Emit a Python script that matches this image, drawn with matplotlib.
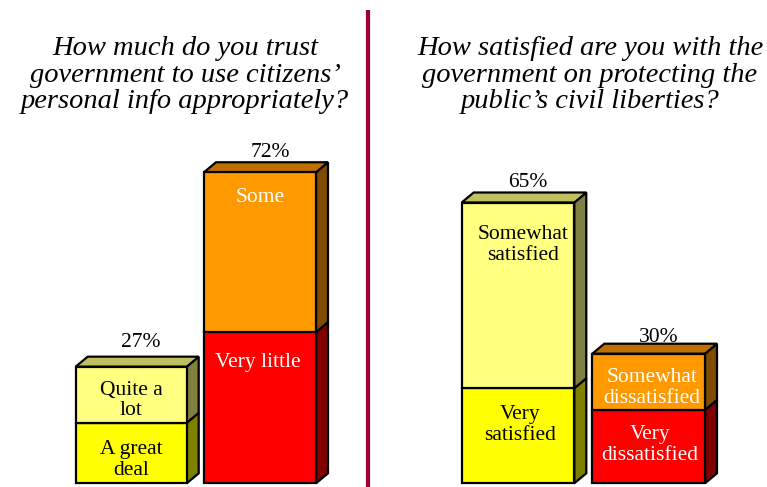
import matplotlib
matplotlib.use("Agg")
import matplotlib.pyplot as plt
from matplotlib.patches import Polygon

# Survey results (percent of respondents)
left_title = "How much do you trust\ngovernment to use citizens’\npersonal info appropriately?"
right_title = "How satisfied are you with the\ngovernment on protecting the\npublic’s civil liberties?"

trust_great_deal = 14
trust_quite_a_lot = 13
trust_very_little = 35
trust_some = 37

sat_very = 22
sat_somewhat = 43
dis_very = 17
dis_somewhat = 13

# Bars: list of stacked segments (value, label) from bottom up
bars = [
    [(trust_great_deal, "A great\ndeal"), (trust_quite_a_lot, "Quite a\nlot")],
    [(trust_very_little, "Very little"), (trust_some, "Some")],
    [(sat_very, "Very\nsatisfied"), (sat_somewhat, "Somewhat\nsatisfied")],
    [(dis_very, "Very\ndissatisfied"), (dis_somewhat, "Somewhat\ndissatisfied")],
]

# Styling per bar segment: (front, side, top, text colour)
LY = ("#FFFF80", "#808040", "#C0C060", "black")
Y = ("#FFFF00", "#808000", "#C0C000", "black")
OR = ("#FF9900", "#804C00", "#C07000", "white")
RD = ("#FF0000", "#800000", "#C00000", "white")
seg_styles = [[Y, LY], [RD, OR], [Y, LY], [RD, OR]]

# Horizontal layout (pixels) and label anchors
bar_left = [75.7, 204.0, 461.7, 592.3]
bar_width = [111.0, 112.0, 112.6, 112.7]
# vertical position of each segment label as fraction of segment height (from bottom)
label_frac = [[0.38, 0.40], [0.80, 0.84], [0.61, 0.77], [0.52, 0.39]]
label_dx = [[0, 0], [-2, 0], [2, 5], [1, 3]]
# gap (px) between the top face and the centre of the total label
total_gap = [14.0, 10.0, 10.0, 6.0]
total_dx = 10.0

W, H = 767, 487
base_px = 483.3
px_per_pct = 4.32
depth_x = 12.0
depth_y = 10.0 / px_per_pct

fig = plt.figure(figsize=(W / 100, H / 100), dpi=100)
ax = fig.add_axes([0, 0, 1, 1])
ax.set_xlim(0, W)
ax.set_ylim(-(H - base_px) / px_per_pct, base_px / px_per_pct)
ax.axis("off")


def px_to_y(py):
    return (base_px - py) / px_per_pct


serif = ["Liberation Serif", "DejaVu Serif"]
lw = 1.6

for bi, segs in enumerate(bars):
    x0 = bar_left[bi]
    x1 = x0 + bar_width[bi]
    bottom = 0.0
    for si, (val, lab) in enumerate(segs):
        front, side, top_c, tc = seg_styles[bi][si]
        y0, y1 = bottom, bottom + val
        ax.add_patch(Polygon([(x0, y0), (x1, y0), (x1, y1), (x0, y1)],
                             closed=True, facecolor=front, edgecolor="black",
                             linewidth=lw, zorder=3))
        ax.add_patch(Polygon([(x1, y0), (x1 + depth_x, y0 + depth_y),
                              (x1 + depth_x, y1 + depth_y), (x1, y1)],
                             closed=True, facecolor=side, edgecolor="black",
                             linewidth=lw, zorder=2))
        ax.text((x0 + x1) / 2 + label_dx[bi][si], y0 + val * label_frac[bi][si], lab,
                ha="center", va="center", color=tc, fontsize=15.5,
                family=serif, linespacing=1.12, zorder=4)
        bottom = y1
    ax.add_patch(Polygon([(x0, bottom), (x1, bottom),
                          (x1 + depth_x, bottom + depth_y),
                          (x0 + depth_x, bottom + depth_y)],
                         closed=True, facecolor=seg_styles[bi][-1][2],
                         edgecolor="black", linewidth=lw, zorder=2))
    ax.text((x0 + x1) / 2 + total_dx,
            bottom + depth_y + total_gap[bi] / px_per_pct, f"{bottom:.0f}%",
            ha="center", va="center", fontsize=15.5, family=serif, color="black")

# Titles
ax.text(185, px_to_y(75), left_title, ha="center", va="center",
        fontsize=20.5, style="italic", family=serif, linespacing=1.08)
ax.text(590, px_to_y(75), right_title, ha="center", va="center",
        fontsize=20.5, style="italic", family=serif, linespacing=1.08)

# Divider between the two questions
ax.plot([368, 368], [px_to_y(10), px_to_y(H)],
        color="#A0003C", linewidth=3.0, solid_capstyle="butt")

fig.savefig("out.png", dpi=100)
